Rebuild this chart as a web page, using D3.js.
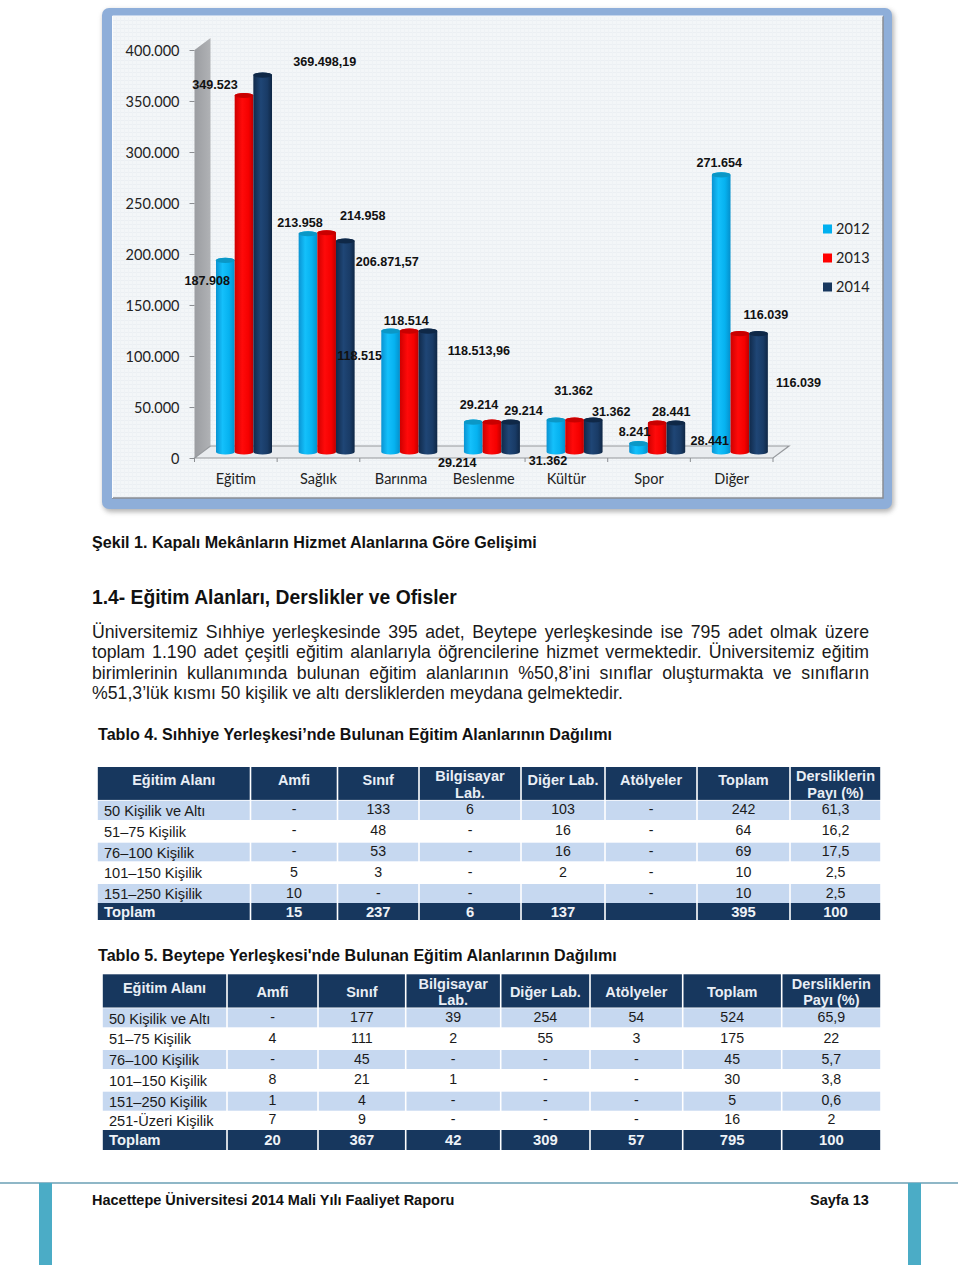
<!DOCTYPE html>
<html lang="tr">
<head>
<meta charset="utf-8">
<title>Kapalı Mekânlar</title>
<script src="https://cdn.jsdelivr.net/npm/d3@7"></script>
<style>
html, body { margin: 0; padding: 0; background: #fff; }
svg { display: block; }
text { font-family: "Liberation Sans", Arial, sans-serif; fill: #111; }
.calibri { font-family: Lato, sans-serif; font-size: 14.5px; fill: #222; }
.axis path, .axis line { stroke: #8c8f93; }
</style>
</head>
<body>
<svg id="page" width="960" height="1265"></svg>
<script>
// chart data
var categories = ["Eğitim", "Sağlık", "Barınma", "Beslenme", "Kültür", "Spor", "Diğer"];
var years = ["2012", "2013", "2014"];
var values2012 = [187908, 213958, 118515, 29214, 31362, 8241, 271654];
var values2013 = [349523, 214958, 118514, 29214, 31362, 28441, 116039];
var values2014 = [369498.19, 206871.57, 118513.96, 29214, 31362, 28441, 116039];
var yTicks = [0, 50000, 100000, 150000, 200000, 250000, 300000, 350000, 400000];

// where each data label sits, relative to the top of its bar (labels are scattered in the original)
var nudge2012 = [[-18, 20], [-8, -11], [-31, 24], [-16, 40], [-8, 40], [-4, -12], [-2, -12]];
var nudge2013 = [[-29, -11], [36, -17], [-3, -11], [-13, -18], [-1, -30], [14, -12], [26, -19]];
var nudge2014 = [[62, -14], [42, 20], [51, 19], [13, -12], [18, -9], [34, 17], [40, 49]];

// text
var caption = "Şekil 1. Kapalı Mekânların Hizmet Alanlarına Göre Gelişimi";
var heading = "1.4- Eğitim Alanları, Derslikler ve Ofisler";
var paragraph = [
    "Üniversitemiz Sıhhiye yerleşkesinde 395 adet, Beytepe yerleşkesinde ise 795 adet olmak üzere",
    "toplam 1.190 adet çeşitli eğitim alanlarıyla öğrencilerine hizmet vermektedir. Üniversitemiz eğitim",
    "birimlerinin kullanımında bulunan eğitim alanlarının %50,8’ini sınıflar oluşturmakta ve sınıfların",
    "%51,3’lük kısmı 50 kişilik ve altı dersliklerden meydana gelmektedir."
];
var title4 = "Tablo 4. Sıhhiye Yerleşkesi’nde Bulunan Eğitim Alanlarının Dağılımı";
var title5 = "Tablo 5. Beytepe Yerleşkesi'nde Bulunan Eğitim Alanlarının Dağılımı";
var footerLeft = "Hacettepe Üniversitesi 2014 Mali Yılı Faaliyet Raporu";
var footerRight = "Sayfa 13";

// tables
var tableHeader = ["Eğitim Alanı", "Amfi", "Sınıf", "Bilgisayar\nLab.", "Diğer Lab.", "Atölyeler", "Toplam", "Dersliklerin\nPayı (%)"];
var table4Rows = [
    ["50 Kişilik ve Altı", "-", "133", "6", "103", "-", "242", "61,3"],
    ["51–75 Kişilik", "-", "48", "-", "16", "-", "64", "16,2"],
    ["76–100 Kişilik", "-", "53", "-", "16", "-", "69", "17,5"],
    ["101–150 Kişilik", "5", "3", "-", "2", "-", "10", "2,5"],
    ["151–250 Kişilik", "10", "-", "-", "", "-", "10", "2,5"],
    ["Toplam", "15", "237", "6", "137", "", "395", "100"]
];
var table5Rows = [
    ["50 Kişilik ve Altı", "-", "177", "39", "254", "54", "524", "65,9"],
    ["51–75 Kişilik", "4", "111", "2", "55", "3", "175", "22"],
    ["76–100 Kişilik", "-", "45", "-", "-", "-", "45", "5,7"],
    ["101–150 Kişilik", "8", "21", "1", "-", "-", "30", "3,8"],
    ["151–250 Kişilik", "1", "4", "-", "-", "-", "5", "0,6"],
    ["251-Üzeri Kişilik", "7", "9", "-", "-", "-", "16", "2"],
    ["Toplam", "20", "367", "42", "309", "57", "795", "100"]
];

var svg = d3.select("#page");
var defs = svg.append("defs");
var trFormat = d3.formatLocale({decimal: ",", thousands: ".", grouping: [3], currency: ["", ""]}).format(",.2~f");

function hGradient(id, stops) {
    var g = defs.append("linearGradient").attr("id", id);
    stops.forEach(function (s) {
        g.append("stop").attr("offset", s[0]).attr("stop-color", s[1]);
    });
}
hGradient("bar2012", [[0, "#0a93d2"], [0.35, "#14c0fb"], [0.7, "#06b2f0"], [1, "#0490cc"]]);
hGradient("bar2013", [[0, "#cf0000"], [0.4, "#ff0a0a"], [0.75, "#f50000"], [1, "#bd0000"]]);
hGradient("bar2014", [[0, "#102a4b"], [0.4, "#1f4676"], [0.75, "#193b66"], [1, "#0f2745"]]);
hGradient("wall", [[0, "#9b9da1"], [1, "#b0b2b5"]]);

var blur = defs.append("filter").attr("id", "shadow").attr("x", "-5%").attr("y", "-5%").attr("width", "110%").attr("height", "110%");
blur.append("feGaussianBlur").attr("stdDeviation", 2.5);

var weave = defs.append("pattern").attr("id", "weave").attr("width", 4).attr("height", 4).attr("patternUnits", "userSpaceOnUse");
weave.append("rect").attr("width", 4).attr("height", 4).attr("fill", "#f3f6f8");
weave.append("rect").attr("width", 4).attr("height", 1).attr("fill", "#ebeff3");
weave.append("rect").attr("width", 1).attr("height", 4).attr("fill", "#eef2f5");

// ---- frame of the picture
svg.append("rect").attr("x", 103).attr("y", 10).attr("width", 791).attr("height", 502).attr("rx", 8)
    .attr("fill", "#777").attr("opacity", 0.55).attr("filter", "url(#shadow)");
svg.append("rect").attr("x", 102).attr("y", 8).attr("width", 790).attr("height", 501).attr("rx", 7).attr("fill", "#8eaed9");
svg.append("rect").attr("x", 112).attr("y", 16).attr("width", 771).attr("height", 482).attr("fill", "url(#weave)");
svg.append("path").attr("d", "M112,498H883V16").attr("fill", "none").attr("stroke", "#8a8d92").attr("stroke-width", 1.5);
svg.append("path").attr("d", "M112.5,498V16H883").attr("fill", "none").attr("stroke", "#fbfcfd").attr("stroke-width", 1);

// ---- chart
var x = d3.scaleBand().domain(categories).range([194.5, 773]);
var inner = d3.scaleBand().domain(years).range([21.5, 77.5]);
var y = d3.scaleLinear().domain([0, 400000]).range([458, 50]);
var depthX = 16, depthY = 12;

var chart = svg.append("g");

// left wall and floor
chart.append("path")
    .attr("d", d3.line()([[x.range()[0], y(0)], [x.range()[0] + depthX, y(0) - depthY], [x.range()[0] + depthX, y(400000) - depthY], [x.range()[0], y(400000)]]) + "Z")
    .attr("fill", "url(#wall)");
chart.append("path")
    .attr("d", d3.line()([[x.range()[0], y(0)], [x.range()[0] + depthX, y(0) - depthY], [x.range()[1] + depthX, y(0) - depthY], [x.range()[1], y(0)]]) + "Z")
    .attr("fill", "#e9ecef").attr("stroke", "#95989c").attr("stroke-width", 1.2);

var yAxis = chart.append("g").attr("class", "axis")
    .attr("transform", "translate(" + x.range()[0] + ",0)")
    .call(d3.axisLeft(y).tickValues(yTicks).tickFormat(trFormat).tickSize(5).tickPadding(10));
yAxis.select(".domain").remove();
yAxis.selectAll("text").attr("class", "calibri").attr("dy", "0.36em");

var xAxis = chart.append("g").attr("class", "axis")
    .attr("transform", "translate(0," + y(0) + ")")
    .call(d3.axisBottom(x).tickSize(0).tickPadding(16));
xAxis.select(".domain").remove();
xAxis.selectAll("text").attr("class", "calibri");
// ticks go on the band edges here, not the centres
xAxis.selectAll("line.edge")
    .data(categories.concat(["end"]))
    .enter().append("line")
    .attr("class", "edge")
    .attr("x1", function (d, i) { return x.range()[0] + i * x.step(); })
    .attr("x2", function (d, i) { return x.range()[0] + i * x.step(); })
    .attr("y1", 0).attr("y2", 4);

var series = [
    {year: "2012", values: values2012, nudge: nudge2012, cap: "#0b97c6", swatch: "#00b0f0"},
    {year: "2013", values: values2013, nudge: nudge2013, cap: "#c90000", swatch: "#ff0000"},
    {year: "2014", values: values2014, nudge: nudge2014, cap: "#0f2847", swatch: "#17375e"}
];
var baseY = y(0) - 6, capRy = 2.6;

function barX(cat, year) { return x(cat) + inner(year); }
function barTop(v) { return baseY - (y(0) - y(v)); }

var flat = [];
series.forEach(function (s) {
    s.values.forEach(function (v, i) {
        flat.push({year: s.year, cat: categories[i], value: v, nudge: s.nudge[i], cap: s.cap});
    });
});

var bars = chart.selectAll("g.bar").data(flat).enter().append("g").attr("class", "bar");
bars.append("path")
    .attr("d", function (d) {
        var l = barX(d.cat, d.year), w = inner.bandwidth(), rx = w / 2;
        return "M" + l + "," + barTop(d.value) + "V" + baseY +
            "A" + rx + "," + capRy + " 0 0 0 " + (l + w) + "," + baseY +
            "V" + barTop(d.value) +
            "A" + rx + "," + capRy + " 0 0 0 " + l + "," + barTop(d.value) + "Z";
    })
    .attr("fill", function (d) { return "url(#bar" + d.year + ")"; });
bars.append("ellipse")
    .attr("cx", function (d) { return barX(d.cat, d.year) + inner.bandwidth() / 2; })
    .attr("cy", function (d) { return barTop(d.value); })
    .attr("rx", inner.bandwidth() / 2)
    .attr("ry", capRy)
    .attr("fill", function (d) { return d.cap; });

chart.selectAll("text.value").data(flat).enter().append("text")
    .attr("class", "value")
    .attr("x", function (d) { return barX(d.cat, d.year) + inner.bandwidth() / 2 + d.nudge[0]; })
    .attr("y", function (d) { return barTop(d.value) + d.nudge[1]; })
    .attr("dy", "0.36em")
    .attr("text-anchor", "middle")
    .style("font-size", "12.6px").style("font-weight", "bold")
    .text(function (d) { return trFormat(d.value); });

// legend
var legendY = d3.scalePoint().domain(years).range([229, 287]);
var legend = chart.selectAll("g.legend").data(series).enter().append("g").attr("class", "legend")
    .attr("transform", function (d) { return "translate(823," + legendY(d.year) + ")"; });
legend.append("rect").attr("y", -4.5).attr("width", 9).attr("height", 9).attr("fill", function (d) { return d.swatch; });
legend.append("text").attr("class", "calibri").attr("x", 13).attr("dy", "0.36em").text(function (d) { return d.year; });

// ---- running text
function line(txt, xPos, yPos, size, bold) {
    return svg.append("text").attr("x", xPos).attr("y", yPos)
        .style("font-size", size + "px").style("font-weight", bold ? "bold" : "normal").text(txt);
}
line(caption, 92, 548, 16.1, true);
line(heading, 92, 604, 19.3, true);
line(title4, 98, 740, 16.1, true);
line(title5, 98, 961, 16.1, true);

// first three lines are justified out to the right margin
paragraph.forEach(function (txt, i) {
    var t = line(txt, 92, 638 + i * 20.4, 17.7, false).style("fill", "#1a1a1a");
    if (i < 3) {
        var gaps = txt.split(" ").length - 1;
        t.style("word-spacing", (777 - t.node().getComputedTextLength()) / gaps + "px");
    }
});

// ---- tables
function drawTable(cfg) {
    var g = svg.append("g");
    var cols = d3.pairs(cfg.colEdges);
    var rows = d3.pairs(cfg.rowEdges);
    var gap = 0.8;

    // header
    cols.forEach(function (c, j) {
        g.append("rect").attr("x", c[0] + gap).attr("y", rows[0][0])
            .attr("width", c[1] - c[0] - 2 * gap).attr("height", rows[0][1] - rows[0][0] - 0.8).attr("fill", "#17375e");
        var parts = tableHeader[j].split("\n");
        var mid = (c[0] + c[1]) / 2, center = (rows[0][0] + rows[0][1]) / 2;
        parts.forEach(function (p, k) {
            var off = parts.length > 1 ? (k === 0 ? -8 : 8.5) : cfg.headerShift[j];
            g.append("text").attr("x", mid).attr("y", center + off).attr("dy", "0.36em")
                .attr("text-anchor", "middle").style("fill", "#e9eef5")
                .style("font-size", "14.5px").style("font-weight", "bold").text(p);
        });
    });

    // body rows, the last one is the total line
    cfg.rows.forEach(function (r, i) {
        var band = rows[i + 1], total = i === cfg.rows.length - 1;
        var mid = (band[0] + band[1]) / 2;
        r.forEach(function (cell, j) {
            var c = cols[j];
            if (total || i % 2 === 0) {
                g.append("rect").attr("x", c[0] + gap).attr("y", band[0])
                    .attr("width", c[1] - c[0] - 2 * gap).attr("height", band[1] - band[0])
                    .attr("fill", total ? "#17375e" : "#c6d8f0");
            }
            g.append("text")
                .attr("x", j === 0 ? c[0] + cfg.labelPad : (c[0] + c[1]) / 2)
                .attr("y", mid + (total ? 0 : (j === 0 ? 0.5 : -1))).attr("dy", "0.36em")
                .attr("text-anchor", j === 0 ? "start" : "middle")
                .style("fill", total ? "#eef2f7" : "#1a1a1a")
                .style("font-size", total ? "14.8px" : (j === 0 ? "14.6px" : "14.2px"))
                .style("font-weight", total ? "bold" : "normal")
                .text(cell);
        });
    });
}
drawTable({
    colEdges: [97, 250.5, 337.5, 419, 521, 605, 697, 790, 881],
    rowEdges: [767, 800.7, 820, 842.7, 861.3, 884, 903, 920],
    headerShift: [-4.5, -4.5, -4.5, 0, -4.5, -4.5, -4.5, 0],
    labelPad: 7,
    rows: table4Rows
});
drawTable({
    colEdges: [102, 227, 318, 405.7, 500.7, 590, 682.7, 781.7, 881],
    rowEdges: [974.3, 1008.3, 1027.3, 1050, 1069, 1091.7, 1110.7, 1130, 1150],
    headerShift: [-3.5, 0, 0, 0, 0, 0, 0, 0],
    labelPad: 7,
    rows: table5Rows
});

// ---- footer
svg.append("line").attr("x1", 0).attr("x2", 958).attr("y1", 1183).attr("y2", 1183).attr("stroke", "#6a9fb5").attr("stroke-width", 1.5);
svg.selectAll("rect.foot").data([39, 908]).enter().append("rect").attr("class", "foot")
    .attr("x", function (d) { return d; }).attr("y", 1183).attr("width", 13).attr("height", 82).attr("fill", "#4bacc6");
line(footerLeft, 92, 1205, 14.5, true);
line(footerRight, 810, 1205, 14.5, true);
</script>
</body>
</html>
